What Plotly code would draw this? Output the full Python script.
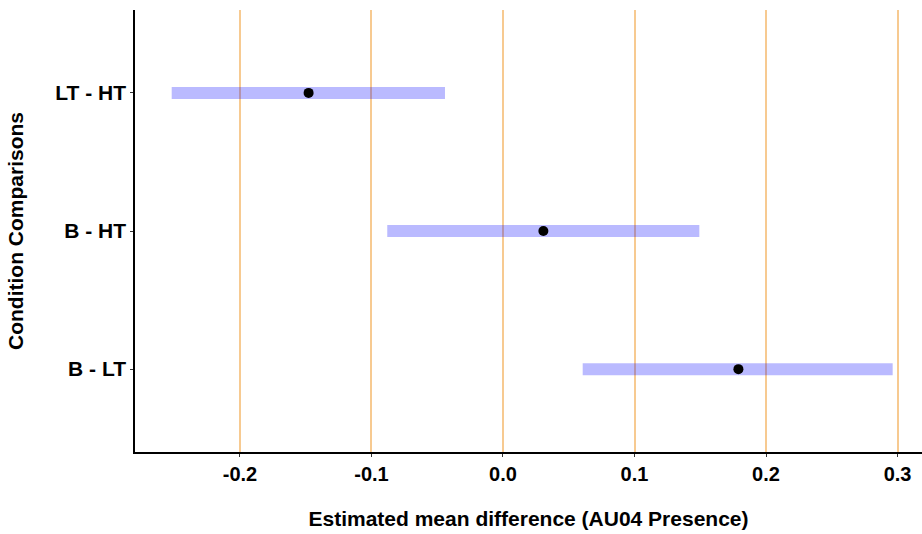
import plotly.graph_objects as go

comparisons = ["B - LT", "B - HT", "LT - HT"]
estimate = [0.179, 0.0307, -0.1478]
lower = [0.0606, -0.0880, -0.2519]
upper = [0.2963, 0.1493, -0.0441]
x_ticks = [-0.2, -0.1, 0.0, 0.1, 0.2, 0.3]
x_tick_labels = ["-0.2", "-0.1", "0.0", "0.1", "0.2", "0.3"]

FONT = "Liberation Sans, Arial, sans-serif"

fig = go.Figure()
for c, lo, hi in zip(comparisons, lower, upper):
    fig.add_trace(go.Scatter(
        x=[lo, hi], y=[c, c], mode="lines",
        line=dict(color="rgba(0,0,255,0.27)", width=12),
        hoverinfo="skip", showlegend=False,
    ))
fig.add_trace(go.Scatter(
    x=estimate, y=comparisons, mode="markers",
    marker=dict(color="black", size=10),
    showlegend=False,
))

fig.update_layout(
    width=922, height=534,
    margin=dict(l=135, r=0, t=10, b=82),
    paper_bgcolor="white", plot_bgcolor="white",
    font=dict(family=FONT, color="black"),
)
fig.update_xaxes(
    range=[-0.2798, 0.3186],
    tickvals=x_ticks, ticktext=x_tick_labels,
    tickfont=dict(size=20, family=FONT, color="black", weight="bold"),
    showgrid=True, gridcolor="rgb(247,202,145)", gridwidth=1.5,
    zeroline=False,
    showline=True, linecolor="black", linewidth=1.5,
    ticks="outside", ticklen=3, tickcolor="#333333", tickwidth=1,
    title=dict(text="<b>Estimated mean difference (AU04 Presence)</b>",
               font=dict(size=21, family=FONT, color="black"), standoff=28),
)
fig.update_yaxes(
    categoryorder="array", categoryarray=comparisons,
    range=[-0.6, 2.6],
    tickfont=dict(size=21, family=FONT, color="black", weight="bold"),
    showgrid=False, zeroline=False,
    showline=True, linecolor="black", linewidth=1.5,
    ticks="outside", ticklen=3, tickcolor="#333333", tickwidth=1,
    title=dict(text="<b>Condition Comparisons</b>",
               font=dict(size=21, family=FONT, color="black"), standoff=26),
)

fig.write_html("out.html")
